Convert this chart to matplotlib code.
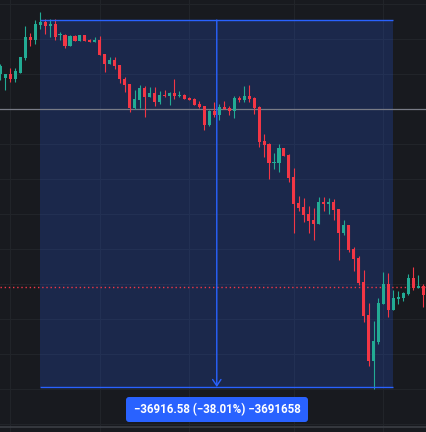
import matplotlib
matplotlib.use('Agg')
import matplotlib.pyplot as plt
from matplotlib.patches import Rectangle, FancyBboxPatch
from matplotlib.transforms import IdentityTransform
from matplotlib import font_manager
import numpy as np

# OHLC, one entry per candle (left to right)
opens = [91691, 91289, 91691, 91188, 91792, 93301, 95413, 95111, 96620, 96922,
         96520, 96721, 95614, 95614, 94508, 95514, 95011, 95614, 95111, 94910,
         95111, 93703, 92697, 93100, 92597, 91188, 90685, 88271, 89076, 90283,
         89378, 89780, 88875, 89579, 89478, 89780, 89478, 89579, 89277, 89177,
         88674, 88472, 86561, 87970, 87567, 88372, 88271, 87970, 89277, 89076,
         89478, 89277, 88372, 84952, 84650, 82739, 82739, 84248, 83544, 81331,
         78715, 78313, 77609, 77005, 76603, 78816, 78615, 78816, 78112, 75698,
         76502, 74088, 73183, 70769, 67449, 62822, 64733, 68556, 70567, 67952,
         69059, 69159, 69562, 71171, 70165, 70366]
highs = [92697, 91691, 92295, 92295, 93401, 96520, 95816, 97123, 97928, 97224,
         97224, 97224, 95916, 95715, 95614, 95614, 95614, 95614, 95212, 95413,
         95514, 93703, 93401, 93401, 92597, 91390, 90685, 90082, 90585, 90484,
         90384, 90384, 89981, 90082, 89881, 91188, 89981, 89680, 89378, 89277,
         88975, 88472, 88070, 88875, 88674, 88975, 88472, 89478, 89478, 90484,
         90585, 89378, 88472, 85656, 84751, 83745, 84650, 84248, 83644, 82236,
         79419, 79218, 78413, 78212, 79319, 79319, 79218, 79118, 78112, 77005,
         76502, 74289, 73384, 71976, 68656, 66846, 69159, 71775, 71674, 69964,
         69863, 69763, 71573, 72277, 71473, 70567]
lows = [91088, 90082, 90887, 90887, 91792, 93100, 94508, 94709, 96218, 95715,
        95413, 95111, 95111, 94307, 94508, 95011, 95011, 95011, 94910, 94910,
        93603, 91893, 92697, 92194, 90786, 89881, 87869, 88171, 88271, 87366,
        89378, 88472, 88674, 89378, 88573, 89177, 89378, 89177, 89076, 88573,
        88271, 86058, 86461, 87366, 87064, 88171, 87567, 87265, 88875, 88875,
        88875, 87668, 84348, 83342, 81129, 82135, 81834, 83443, 80828, 75698,
        77911, 76804, 75698, 74993, 76603, 77911, 77609, 77005, 72982, 75496,
        73786, 71875, 70467, 66745, 62319, 60005, 64532, 68556, 67248, 67952,
        68556, 68857, 69461, 69964, 70165, 68254]
closes = [92496, 91691, 91188, 91993, 93401, 95413, 95111, 96721, 96922, 96520,
          96721, 95413, 95715, 94508, 95514, 95011, 95614, 95011, 94910, 95111,
          93603, 92697, 93100, 92496, 91188, 90585, 88271, 89177, 90283, 89378,
          89780, 88875, 89579, 89478, 89780, 89478, 89579, 89177, 89076, 88573,
          88372, 86561, 87970, 87567, 88372, 88171, 87970, 89277, 89076, 89478,
          89177, 88271, 84851, 84549, 82739, 82839, 84248, 83443, 81230, 78615,
          78212, 77508, 76905, 76603, 78816, 78615, 78816, 78011, 75698, 76502,
          73987, 73082, 70668, 67349, 62822, 64834, 68656, 70567, 67952, 69159,
          69260, 69662, 71171, 70165, 70366, 69461]

# measure tool: from candle 8 to candle 79, between these two prices
measure_start, measure_end = 8, 79
measure_top, measure_bottom = 97123, 60207
measure_label = '\u221236916.58 (\u221238.01%) \u22123691658'

price_line = 88171      # grey horizontal line
last_price = 70236      # red dotted line
time_grid = [2, 20, 38, 59, 77]

# colors
bg = '#181A1F'
grid_c = '#212429'
up_c = '#22AB94'
down_c = '#F23645'
blue = '#2962FF'

W, H = 426, 432
top_price = 99135       # price at the top pixel row
per_px = 100.59         # price per pixel
step_px = 4.976         # pixels per candle

fig = plt.figure(figsize=(W / 100, H / 100), dpi=100, facecolor=bg)
ax = fig.add_axes([0, 0, 1, 1])
ax.set_axis_off()
ax.set_xlim(-0.32 / step_px, (W - 0.32) / step_px)
ax.set_ylim(top_price - H * per_px, top_price)

# grid
for gy in top_price - per_px * (4 + 35 * np.arange(13)):
    ax.axhline(gy, color=grid_c, lw=0.8, zorder=0)
for gx in time_grid:
    ax.axvline(gx, color=grid_c, lw=0.8, zorder=0)

# bottom time-axis border
ax.axhline(top_price - 427 * per_px, color='#3A3D44', lw=1.2, zorder=1)

# measure box fill
ax.add_patch(Rectangle((measure_start, measure_bottom), measure_end - measure_start,
                       measure_top - measure_bottom, facecolor=blue, alpha=0.2,
                       edgecolor='none', zorder=1))

ax.axhline(price_line, color='#787B86', lw=0.9, zorder=2)
ax.axhline(last_price, color=down_c, lw=1.0, linestyle=(0, (1, 2)), zorder=2)

# candles
idx = np.arange(len(opens))
o = np.array(opens); c = np.array(closes)
cols = [up_c if cc > oo else down_c for oo, cc in zip(o, c)]
ax.vlines(idx, lows, highs, colors=cols, lw=0.8, zorder=3)
body_h = np.maximum(np.abs(c - o), 120)
ax.bar(idx, body_h, bottom=np.minimum(o, c), width=0.62, color=cols,
       linewidth=0, zorder=4)

# measure box edges and arrow
ax.hlines([measure_top, measure_bottom], measure_start, measure_end,
          colors=blue, lw=1.0, zorder=5)
mid = (measure_start + measure_end) / 2
ax.annotate('', xy=(mid, measure_bottom), xytext=(mid, measure_top),
            arrowprops=dict(arrowstyle='->,head_length=0.45,head_width=0.3',
                            color=blue, lw=1.0, shrinkA=0, shrinkB=0), zorder=5)

# label box
try:
    font_manager.findfont('Liberation Sans Narrow', fallback_to_default=False)
    lab_font, lab_size = 'Liberation Sans Narrow', 9.9
except ValueError:
    lab_font, lab_size = 'Roboto', 8.3

box = FancyBboxPatch((126, H - 422), 182, 25, boxstyle='round,pad=0,rounding_size=3',
                     facecolor=blue, edgecolor='none', transform=IdentityTransform())
fig.patches.append(box)
fig.text(217, H - 409.5, measure_label, transform=IdentityTransform(),
         ha='center', va='center', color='white', fontsize=lab_size,
         fontweight='bold', family=[lab_font, 'DejaVu Sans'])

fig.savefig('out.png', dpi=100, facecolor=bg)
